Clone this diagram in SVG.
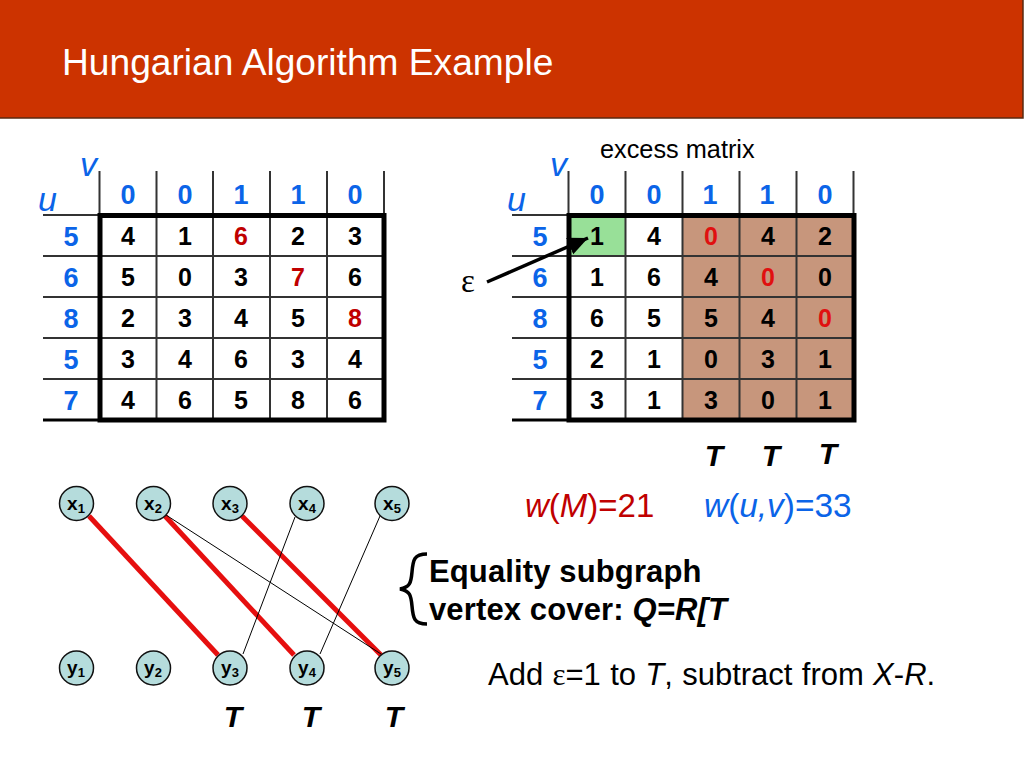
<svg xmlns="http://www.w3.org/2000/svg" width="1024" height="768" viewBox="0 0 1024 768">
<style>
text{font-family:"Liberation Sans",Arial,sans-serif}
.c{font-size:25px;font-weight:bold;text-anchor:middle;fill:#000}
.h{font-size:27px;font-weight:bold;text-anchor:middle;fill:#0b64e8}
.b{fill:#0b64e8}
.r{fill:#c00000}
.r2{fill:#e01010}
.t{font-size:30px;font-weight:bold;font-style:italic;text-anchor:middle;fill:#000}
.uv{font-size:34px;font-style:italic;fill:#0b64e8}
.g{stroke:#333;stroke-width:2;fill:none}
.box{stroke:#000;stroke-width:5;fill:none}
.n{fill:#b5dcdc;stroke:#111;stroke-width:1.500}
.nl{font-size:19px;font-weight:bold;text-anchor:middle;fill:#000}
.nl tspan{font-size:13px}
.red{stroke:#e60f0f;stroke-width:5;fill:none}
.thin{stroke:#000;stroke-width:1;fill:none}
.big{font-size:33px}
.m{font-size:31px;font-weight:bold;fill:#000;letter-spacing:.13px}
.a{font-size:31px;fill:#000;word-spacing:.7px}
.e{font-family:"Liberation Serif",serif}
</style>
<defs>
<marker id="ah" markerUnits="userSpaceOnUse" markerWidth="24" markerHeight="20" refX="20" refY="9" orient="auto"><path d="M0 0L20 9L0 18Z" fill="#000"/></marker>
</defs>
<rect id="banner" x="-1" y="-1" width="1024" height="119" fill="#cc3300" stroke="#5a2a10" stroke-width="1.500"/>
<text id="title" x="62" y="75" font-size="37.150" fill="#fff">Hungarian Algorithm Example</text>

<g id="matrix-left">
<path class="g" d="M99.500 171V421M156.500 171V421M213 171V421M270 171V421M327 171V421M384 171V421M43 215H385M43 256H385M43 297H385M43 338H385M43 379H385"/>
<path d="M43 420H100" stroke="#000" stroke-width="3"/>
<rect class="box" x="100" y="215.500" width="284" height="204.500"/>
<text class="uv" x="80" y="176">v</text><text class="uv" x="38" y="211">u</text>
<text class="h" x="128" y="204">0</text><text class="h" x="185" y="204">0</text><text class="h" x="241" y="204">1</text><text class="h" x="298" y="204">1</text><text class="h" x="355" y="204">0</text>
<text class="h" x="71" y="246">5</text><text class="h" x="71" y="287">6</text><text class="h" x="71" y="328">8</text><text class="h" x="71" y="369">5</text><text class="h" x="71" y="410">7</text>
<text class="c" x="128" y="245">4</text><text class="c" x="185" y="245">1</text><text class="c r" x="241" y="245">6</text><text class="c" x="298" y="245">2</text><text class="c" x="355" y="245">3</text>
<text class="c" x="128" y="286">5</text><text class="c" x="185" y="286">0</text><text class="c" x="241" y="286">3</text><text class="c r" x="298" y="286">7</text><text class="c" x="355" y="286">6</text>
<text class="c" x="128" y="327">2</text><text class="c" x="185" y="327">3</text><text class="c" x="241" y="327">4</text><text class="c" x="298" y="327">5</text><text class="c r" x="355" y="327">8</text>
<text class="c" x="128" y="368">3</text><text class="c" x="185" y="368">4</text><text class="c" x="241" y="368">6</text><text class="c" x="298" y="368">3</text><text class="c" x="355" y="368">4</text>
<text class="c" x="128" y="409">4</text><text class="c" x="185" y="409">6</text><text class="c" x="241" y="409">5</text><text class="c" x="298" y="409">8</text><text class="c" x="355" y="409">6</text>
</g>

<g id="matrix-right">
<rect x="570" y="217" width="56" height="39" fill="#98e098"/>
<rect x="683" y="217" width="170" height="202" fill="#c7967c"/>
<path class="g" d="M568.500 171V421M625.500 171V421M682.500 171V421M739.500 171V421M796.500 171V421M853.500 171V421M512 215H855M512 256H855M512 297H855M512 338H855M512 379H855"/>
<path d="M512 420H569" stroke="#000" stroke-width="3"/>
<rect class="box" x="569" y="215.500" width="285" height="204.500"/>
<text class="uv" x="550" y="176">v</text><text class="uv" x="507" y="211">u</text>
<text x="600" y="158" font-size="25.300" fill="#000">excess matrix</text>
<text class="h" x="597" y="204">0</text><text class="h" x="654" y="204">0</text><text class="h" x="710" y="204">1</text><text class="h" x="767" y="204">1</text><text class="h" x="825" y="204">0</text>
<text class="h" x="540" y="246">5</text><text class="h" x="540" y="287">6</text><text class="h" x="540" y="328">8</text><text class="h" x="540" y="369">5</text><text class="h" x="540" y="410">7</text>
<text class="c" x="597" y="245">1</text><text class="c" x="654" y="245">4</text><text class="c r2" x="711" y="245">0</text><text class="c" x="768" y="245">4</text><text class="c" x="825" y="245">2</text>
<text class="c" x="597" y="286">1</text><text class="c" x="654" y="286">6</text><text class="c" x="711" y="286">4</text><text class="c r2" x="768" y="286">0</text><text class="c" x="825" y="286">0</text>
<text class="c" x="597" y="327">6</text><text class="c" x="654" y="327">5</text><text class="c" x="711" y="327">5</text><text class="c" x="768" y="327">4</text><text class="c r2" x="825" y="327">0</text>
<text class="c" x="597" y="368">2</text><text class="c" x="654" y="368">1</text><text class="c" x="711" y="368">0</text><text class="c" x="768" y="368">3</text><text class="c" x="825" y="368">1</text>
<text class="c" x="597" y="409">3</text><text class="c" x="654" y="409">1</text><text class="c" x="711" y="409">3</text><text class="c" x="768" y="409">0</text><text class="c" x="825" y="409">1</text>
<text class="t" x="714" y="466">T</text><text class="t" x="771" y="466">T</text><text class="t" x="828" y="464">T</text>
</g>

<g id="connectors">
<path class="red" d="M89 516L218 655"/>
<path class="red" d="M165 516L294 655"/>
<path class="red" d="M242 516L381 655"/>
<path class="thin" d="M166 515L381 654"/>
<path class="thin" d="M295 517L243 654"/>
<path class="thin" d="M380 516L320 654"/>
<path d="M487 282L588 238" stroke="#000" stroke-width="3.500" fill="none" marker-end="url(#ah)"/>
</g>

<g id="x1"><circle class="n" cx="76.500" cy="503.500" r="17"/><text class="nl" x="76" y="510">x<tspan dy="3">1</tspan></text></g>
<g id="x2"><circle class="n" cx="153.500" cy="503.500" r="17"/><text class="nl" x="153" y="510">x<tspan dy="3">2</tspan></text></g>
<g id="x3"><circle class="n" cx="230" cy="503.500" r="17"/><text class="nl" x="230" y="510">x<tspan dy="3">3</tspan></text></g>
<g id="x4"><circle class="n" cx="307" cy="503.500" r="17"/><text class="nl" x="307" y="510">x<tspan dy="3">4</tspan></text></g>
<g id="x5"><circle class="n" cx="392" cy="503.500" r="17"/><text class="nl" x="392" y="510">x<tspan dy="3">5</tspan></text></g>
<g id="y1"><circle class="n" cx="76.500" cy="668" r="17"/><text class="nl" x="76" y="674">y<tspan dy="3">1</tspan></text></g>
<g id="y2"><circle class="n" cx="153.500" cy="668" r="17"/><text class="nl" x="153" y="674">y<tspan dy="3">2</tspan></text></g>
<g id="y3"><circle class="n" cx="230" cy="668" r="17"/><text class="nl" x="230" y="674">y<tspan dy="3">3</tspan></text></g>
<g id="y4"><circle class="n" cx="307" cy="668" r="17"/><text class="nl" x="307" y="674">y<tspan dy="3">4</tspan></text></g>
<g id="y5"><circle class="n" cx="392" cy="668" r="17"/><text class="nl" x="392" y="674">y<tspan dy="3">5</tspan></text></g>

<text class="t" x="233" y="727">T</text><text class="t" x="311" y="727">T</text><text class="t" x="394" y="727">T</text>

<text class="e" x="461" y="292" font-size="33" fill="#000">ε</text>

<text class="big r" x="525" y="517"><tspan font-style="italic">w</tspan>(<tspan font-style="italic">M</tspan>)=21</text>
<text class="big b" x="704" y="517" font-size="33.400" style="font-size:33.400px"><tspan font-style="italic">w</tspan>(<tspan font-style="italic">u,v</tspan>)=33</text>

<path d="M427 554C414 554 413 560 412 572C411 583 410 587 400 589C410 591 411 595 412 606C413 618 414 624 427 624" stroke="#000" stroke-width="3.500" fill="none"/>
<text class="m" x="429" y="582">Equality subgraph</text>
<text class="m" x="429" y="620">vertex cover: <tspan font-style="italic">Q=R[T</tspan></text>
<text class="a" x="488" y="685">Add <tspan class="e">ε</tspan>=1 to <tspan font-style="italic">T</tspan>, subtract from <tspan font-style="italic">X</tspan>-<tspan font-style="italic">R</tspan>.</text>
</svg>
